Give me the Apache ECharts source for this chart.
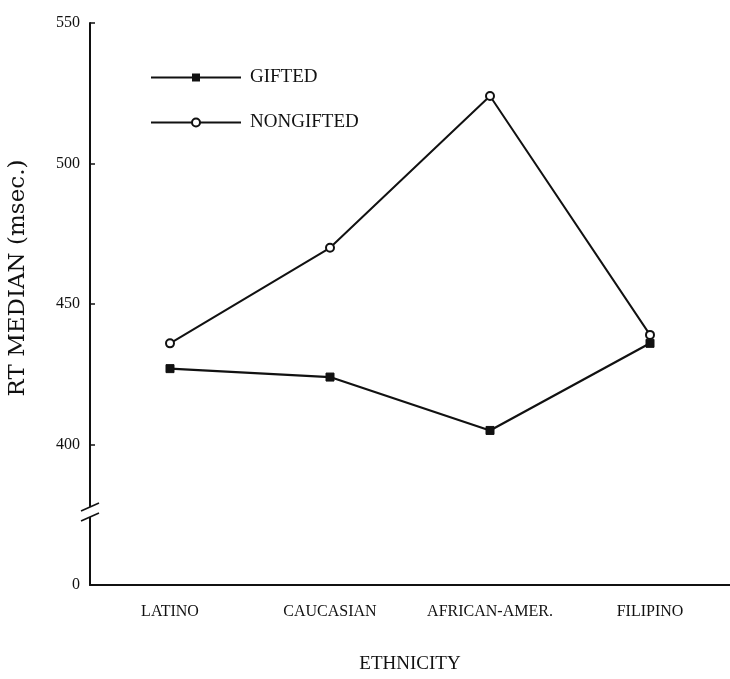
<!DOCTYPE html>
<html>
<head>
<meta charset="utf-8">
<script src="https://cdn.jsdelivr.net/npm/echarts@6/dist/echarts.min.js"></script>
<style>
  html, body { margin: 0; padding: 0; background: #fff; }
  #chart { width: 730px; height: 679px; }
</style>
</head>
<body>
<div id="chart"></div>
<script>
// 数据
const ethnicities = ['LATINO', 'CAUCASIAN', 'AFRICAN-AMER.', 'FILIPINO']
const gifted      = [427, 424, 405, 436]
const nongifted   = [436, 470, 524, 439]
const yTicks      = [350, 400, 450, 500, 550]   // 350 画成断轴后的 "0"

const font = 'Liberation Serif'
const chart = echarts.init(document.getElementById('chart'))

chart.setOption({
  backgroundColor: '#fff',
  animation: false,
  grid: { left: 90, right: 0, top: 23, bottom: 94, outerBoundsMode: 'none', containLabel: false },
  legend: {
    orient: 'vertical', left: 145, top: 63,
    itemWidth: 90, itemHeight: 10, itemGap: 26,
    textStyle: { fontFamily: font, fontSize: 19, color: '#111', padding: [0, 0, 0, 4] },
    data: ['GIFTED', 'NONGIFTED']
  },
  xAxis: {
    type: 'category',
    data: ethnicities,
    name: 'ETHNICITY', nameLocation: 'middle', nameGap: 70,
    nameTextStyle: { fontFamily: font, fontSize: 19, color: '#111' },
    axisLine: { lineStyle: { color: '#111', width: 2 } },
    axisTick: { inside: true, alignWithLabel: true, length: 7, lineStyle: { color: '#111', width: 1.5 } },
    axisLabel: { interval: 0, hideOverlap: false, margin: 19, fontFamily: font, fontSize: 16, color: '#111' }
  },
  yAxis: {
    type: 'value', min: 350, max: 550, interval: 50,
    name: 'RT MEDIAN (msec.)', nameLocation: 'middle', nameGap: 60,
    nameTextStyle: { fontFamily: 'DejaVu Serif', fontSize: 23, color: '#111', padding: [0, 0, 0, 52] },
    axisLine: { show: true, lineStyle: { color: '#111', width: 2 } },
    axisTick: { show: true, inside: true, length: 5, lineStyle: { color: '#111', width: 1.5 } },
    splitLine: { show: false },
    axisLabel: {
      margin: 10, fontFamily: font, fontSize: 16, color: '#111',
      formatter: v => (v === yTicks[0] ? '0' : String(v))
    }
  },
  series: [
    {
      name: 'GIFTED', type: 'line', data: gifted,
      symbol: 'rect', symbolSize: 8,
      lineStyle: { color: '#111', width: 2.2 },
      itemStyle: { color: '#111', borderColor: '#111' }
    },
    {
      name: 'NONGIFTED', type: 'line', data: nongifted,
      symbol: 'emptyCircle', symbolSize: 8,
      lineStyle: { color: '#111', width: 2 },
      itemStyle: { color: '#111', borderColor: '#111', borderWidth: 1.5 }
    }
  ]
})

// 断轴标记 "//"
function drawBreak() {
  const p = chart.convertToPixel({ gridIndex: 0 }, [0, 376])
  const x = 90
  const y = p[1]
  const gap = 10
  chart.setOption({
    graphic: [
      { type: 'rect', shape: { x: x - 4, y: y - gap / 2, width: 8, height: gap }, style: { fill: '#fff' }, z: 100 },
      { type: 'line', shape: { x1: x - 9, y1: y - gap / 2 + 4, x2: x + 9, y2: y - gap / 2 - 4 }, style: { stroke: '#111', lineWidth: 1.5 }, z: 101 },
      { type: 'line', shape: { x1: x - 9, y1: y + gap / 2 + 4, x2: x + 9, y2: y + gap / 2 - 4 }, style: { stroke: '#111', lineWidth: 1.5 }, z: 101 }
    ]
  })
}
drawBreak()
</script>
</body>
</html>
